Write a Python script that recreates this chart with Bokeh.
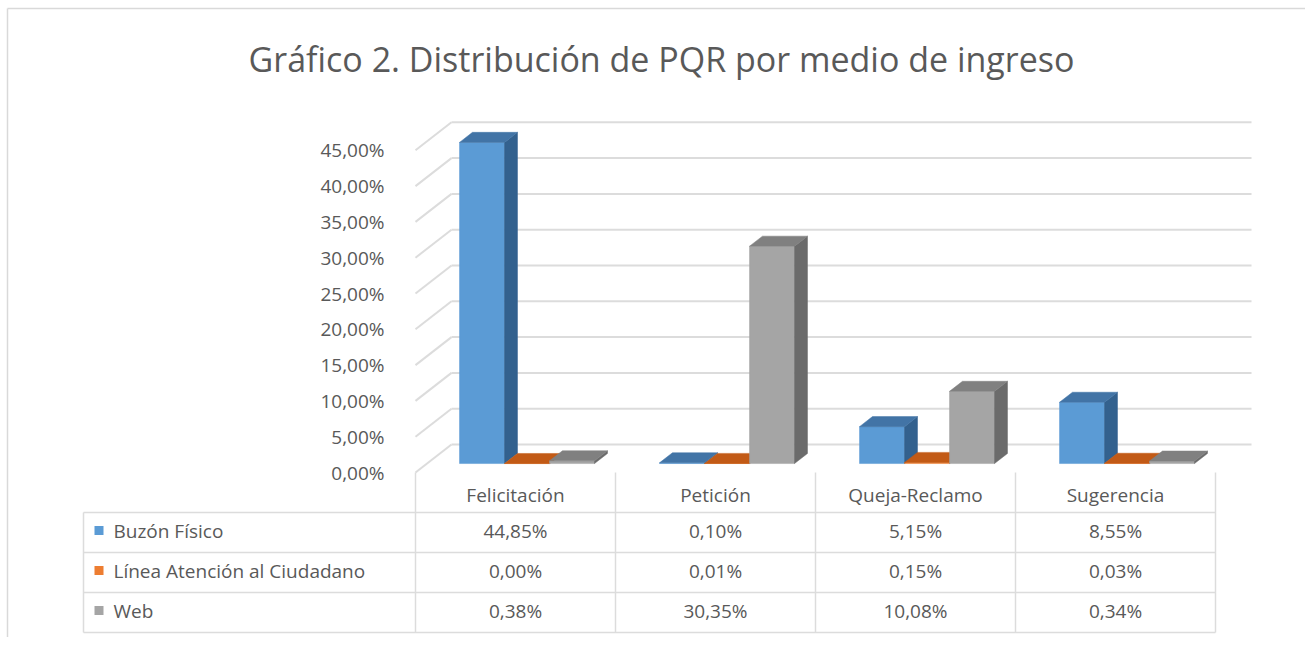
from bokeh.plotting import figure
from bokeh.models import Range1d, LinearAxis, FixedTicker, Grid
from bokeh.embed import file_html
from bokeh.resources import INLINE
from bokeh.core.properties import value

# ---------------- data ----------------
title = "Gráfico 2. Distribución de PQR por medio de ingreso"
categories = ["Felicitación", "Petición", "Queja-Reclamo", "Sugerencia"]
series_names = ["Buzón Físico", "Línea Atención al Ciudadano", "Web"]
buzon_fisico = [44.85, 0.10, 5.15, 8.55]
linea_atencion = [0.00, 0.01, 0.15, 0.03]
web = [0.38, 30.35, 10.08, 0.34]
y_ticks = [0, 5, 10, 15, 20, 25, 30, 35, 40, 45]

series_values = [buzon_fisico, linea_atencion, web]

# ---------------- styles ----------------
FRONT = ["#5b9bd5", "#ed7d31", "#a5a5a5"]
TOP = ["#4274a6", "#c25a16", "#808080"]
SIDE = ["#33618e", "#a34a10", "#6b6b6b"]
TEXT = "#595959"
GRID = "#dcdcdc"
FONT = "Open Sans"

W, H = 1305, 637
PX_X = 200.0      # pixels per category unit
PX_Y = 7.16       # pixels per percent
X0, Y0 = 415.0, 472.0   # canvas position of (0, 0) on the front plane


def ux(px):
    return (px - X0) / PX_X


def vy(py):
    return (Y0 - py) / PX_Y


DU = 36 / PX_X      # full depth, x
DV = 28 / PX_Y      # full depth, y
D0, D1 = 0.32, 0.68  # bar depth span
BW = 45 / PX_X       # bar width

p = figure(width=W, height=H, x_range=Range1d(ux(0), ux(W)),
           y_range=Range1d(vy(H), vy(0)),
           output_backend="svg", toolbar_location=None,
           x_axis_location=None, y_axis_location=None, min_border=0)
p.outline_line_color = None
p.background_fill_color = "white"
p.border_fill_color = "white"
for g in p.select(type=Grid):
    g.visible = False

# outer chart-area frame (top and left edges visible)
p.segment(x0=[ux(7), ux(7)], y0=[vy(8), vy(8)], x1=[ux(W), ux(7)],
          y1=[vy(8), vy(H)], line_color="#d9d9d9", line_width=1.5)

# title
p.text(x=[ux(661)], y=[vy(58)], text=[title], text_align="center",
       text_baseline="middle", text_font=value(FONT), text_font_size="34px",
       text_color=TEXT)

# gridlines: diagonal depth lines + back wall lines
n = len(categories)
p.segment(x0=[0] * len(y_ticks), y0=y_ticks, x1=[DU] * len(y_ticks),
          y1=[t + DV for t in y_ticks], line_color=GRID, line_width=2)
p.segment(x0=[DU] * len(y_ticks), y0=[t + DV for t in y_ticks],
          x1=[n + DU] * len(y_ticks), y1=[t + DV for t in y_ticks],
          line_color=GRID, line_width=2)

# 3D bars
xs, ys, cols = [], [], []
for i in range(n):
    c = i + 0.5
    for k, vals in enumerate(series_values):
        v = vals[i]
        L = c + (k - 1) * BW - BW / 2 + D0 * DU
        R = L + BW
        B = D0 * DV
        T = v + D0 * DV
        du = (D1 - D0) * DU
        dv = (D1 - D0) * DV
        xs.append([L, R, R, L]); ys.append([B, B, T, T]); cols.append(FRONT[k])
        xs.append([R, R + du, R + du, R]); ys.append([B, B + dv, T + dv, T]); cols.append(SIDE[k])
        xs.append([L, R, R + du, L + du]); ys.append([T, T, T + dv, T + dv]); cols.append(TOP[k])
p.patches(xs=xs, ys=ys, fill_color=cols, line_color=cols, line_width=0.5)

# y axis at the front-left edge
yax = LinearAxis(fixed_location=0, ticker=FixedTicker(ticks=y_ticks))
yax.major_label_overrides = {t: f"{t:.2f}".replace(".", ",") + "%" for t in y_ticks}
yax.axis_line_color = None
yax.major_tick_line_color = None
yax.minor_tick_line_color = None
yax.major_label_standoff = 25
yax.major_label_text_font = FONT
yax.major_label_text_font_size = "19px"
yax.major_label_text_color = TEXT
p.add_layout(yax, "left")

# ---------------- data table ----------------
row_top = [vy(512), vy(552), vy(592)]
row_bot = vy(632)
header_y = vy(494)
row_text_y = [vy(530), vy(570), vy(610)]
left_edge = ux(83)

hl_y = row_top + [row_bot]
p.segment(x0=[left_edge] * 4, y0=hl_y, x1=[n] * 4, y1=hl_y, line_color=GRID, line_width=1.5)
p.segment(x0=list(range(n + 1)), y0=[0] * (n + 1), x1=list(range(n + 1)),
          y1=[row_bot] * (n + 1), line_color=GRID, line_width=1.5)
p.segment(x0=[left_edge], y0=[row_top[0]], x1=[left_edge], y1=[row_bot],
          line_color=GRID, line_width=1.5)

p.text(x=[i + 0.5 for i in range(n)], y=[header_y] * n, text=categories,
       text_align="center", text_baseline="middle", text_font=value(FONT),
       text_font_size="19px", text_color=TEXT)

p.scatter(x=[ux(98.5)] * 3, y=row_text_y, marker="square", size=9,
          fill_color=FRONT, line_color=None)
p.text(x=[ux(113)] * 3, y=row_text_y, text=series_names, text_align="left",
       text_baseline="middle", text_font=value(FONT), text_font_size="19px",
       text_color=TEXT)

cx, cy, ct = [], [], []
for r, vals in enumerate(series_values):
    for i, v in enumerate(vals):
        cx.append(i + 0.5)
        cy.append(row_text_y[r])
        ct.append(f"{v:.2f}".replace(".", ",") + "%")
p.text(x=cx, y=cy, text=ct, text_align="center", text_baseline="middle",
       text_font=value(FONT), text_font_size="19px", text_color=TEXT)

open("out.html", "w").write(file_html(p, INLINE))
